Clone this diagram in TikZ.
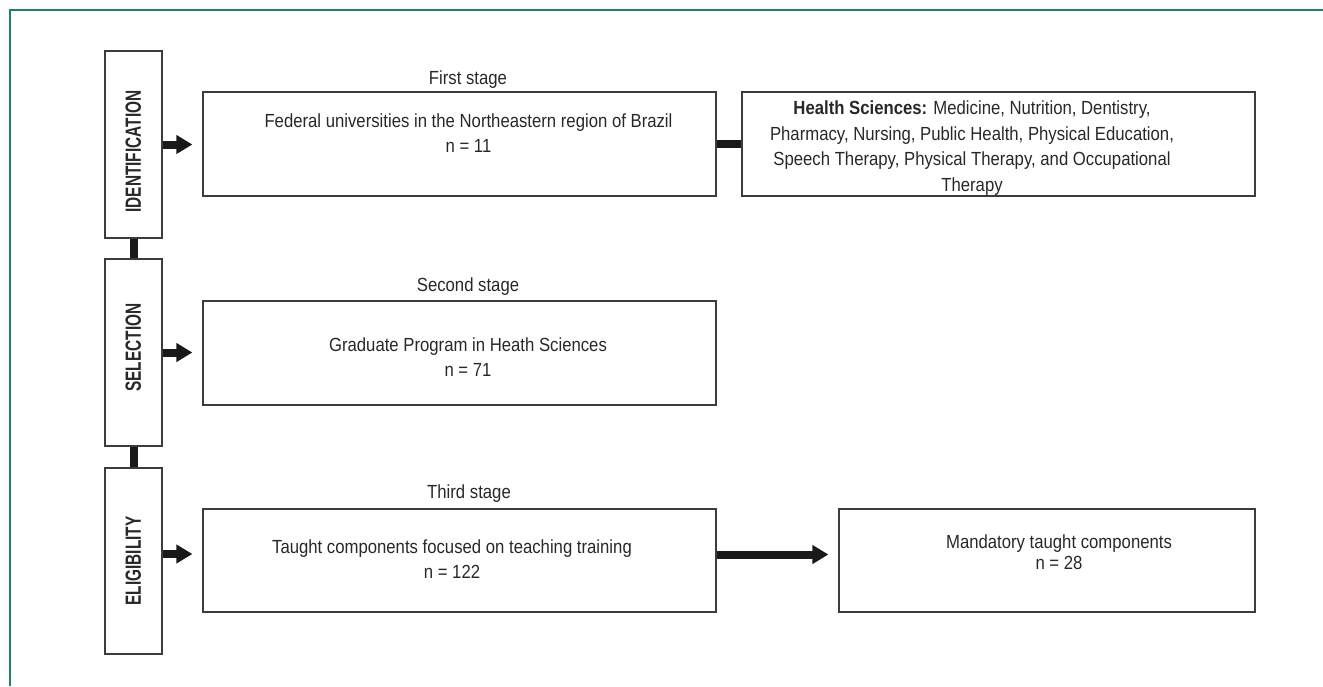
\documentclass[tikz,border=0pt]{standalone}
\usepackage{fontspec}
\setmainfont{Liberation Sans}[FakeStretch=0.88]
\newfontfamily\stagefont{Liberation Sans}[FakeStretch=0.7]
\usetikzlibrary{arrows.meta}
\definecolor{frameteal}{RGB}{30,128,112}
\definecolor{boxgray}{RGB}{60,60,60}
\definecolor{textgray}{RGB}{40,40,40}

\begin{document}
\begin{tikzpicture}[x=1pt, y=-1pt,
    stagebox/.style={draw=boxgray, line width=1.2pt, minimum width=57pt, minimum height=187pt, inner sep=0pt},
    infobox/.style={draw=boxgray, line width=1.2pt, minimum height=104pt, inner sep=0pt},
    stagelabel/.style={inner sep=0pt, rotate=90, text=textgray, font={\stagefont\bfseries\fontsize{22}{26}\selectfont}},
    heading/.style={inner sep=0pt, anchor=base, text=textgray, font={\fontsize{19}{25}\selectfont}},
    txt/.style={inner sep=0pt, anchor=north, align=center, text=textgray, font={\fontsize{19}{25}\selectfont}},
    fat/.style={line width=8pt, draw=black!90, -{Triangle[length=16pt, width=18pt]}, shorten >=10pt},
    bar/.style={line width=8pt, draw=black!90}]
    \useasboundingbox (0,0) rectangle (1323,686);
    \draw [frameteal, line width=1.5pt] (1323,10) -- (10,10) -- (10,686);

    % stage column
    \node [stagebox] (idbox) at (133.5,144.5) {};
    \node [stagebox] (selbox) at (133.5,352.5) {};
    \node [stagebox, minimum height=186pt] (eligbox) at (133.5,561) {};
    \node [stagelabel] (idlabel) at (133.4,151.5) {IDENTIFICATION};
    \node [stagelabel] (sellabel) at (133.4,347.5) {SELECTION};
    \node [stagelabel] (eliglabel) at (133.4,561) {ELIGIBILITY};

    % content boxes
    \node [infobox, minimum width=513pt] (fed) at (459.5,144) {};
    \node [infobox, minimum width=513pt] (hs) at (998.5,144) {};
    \node [infobox, minimum width=513pt] (grad) at (459.5,353) {};
    \node [infobox, minimum width=513pt, minimum height=103pt] (taught) at (459.5,560.5) {};
    \node [infobox, minimum width=416pt, minimum height=103pt] (mand) at (1047,560.5) {};

    \node [heading] (firsthead) at (468,84) {First stage};
    \node [heading] (secondhead) at (468,291.7) {Second stage};
    \node [heading] (thirdhead) at (469,498.3) {Third stage};

    \node [txt] (fedtext) at (468.5,114) {Federal universities in the Northeastern region of Brazil\\ n = 11};
    \node [txt, font={\fontsize{19}{25.5}\selectfont}] (hstext) at (972,101) {\textbf{Health Sciences:} Medicine, Nutrition, Dentistry,\\ Pharmacy, Nursing, Public Health, Physical Education,\\ Speech Therapy, Physical Therapy, and Occupational\\ Therapy};
    \node [txt] (gradtext) at (468,337.8) {Graduate Program in Heath Sciences\\ n = 71};
    \node [txt] (taughttext) at (452,540) {Taught components focused on teaching training\\ n = 122};
    \node [txt, font={\fontsize{19}{21}\selectfont}] (mandtext) at (1059,534.5) {Mandatory taught components\\ n = 28};

    % connectors
    \draw [bar] (idbox) -- (selbox);
    \draw [bar] (selbox) -- (eligbox);
    \draw [bar] (fed) -- (hs);
    \draw [fat] (idbox.east) -- (idbox.east -| fed.west);
    \draw [fat] (selbox.east) -- (selbox.east -| grad.west);
    \draw [fat] ([yshift=7pt]eligbox.east) -- ([yshift=7pt]eligbox.east -| taught.west);
    \draw [fat] ([yshift=6pt]taught.east) -- ([yshift=6pt]taught.east -| mand.west);
\end{tikzpicture}
\end{document}
